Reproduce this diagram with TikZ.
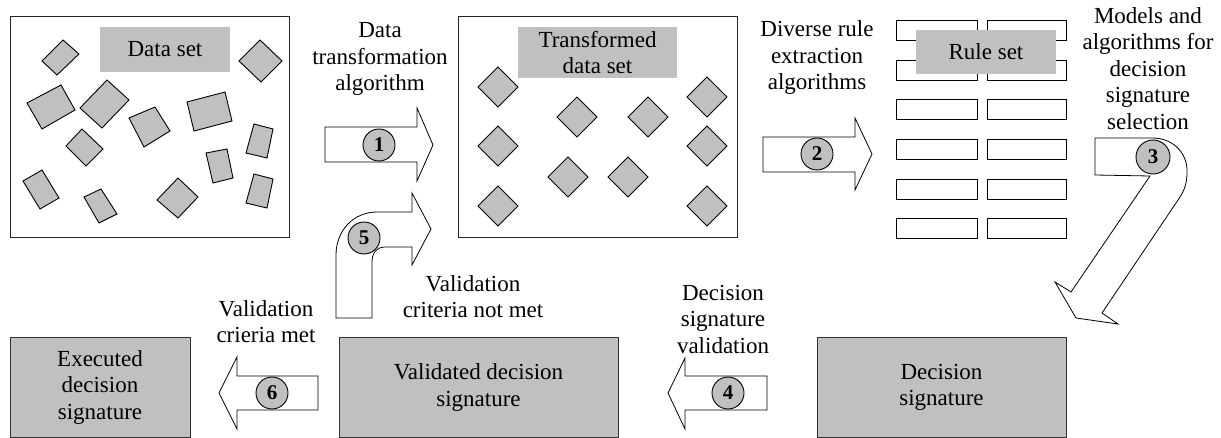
\documentclass[tikz,border=0pt]{standalone}
\usepackage{fontspec}
\setmainfont{Liberation Serif}
\newfontfamily\labelface{Liberation Serif}
\definecolor{boxgray}{RGB}{192,192,192}
\tikzset{
  lbl/.style={align=center, inner sep=0pt, font=\labelface\fontsize{23}{26.5}\selectfont},
  frame/.style={draw=black!85, line width=1pt, fill=white, inner sep=0pt},
  tag/.style={fill=boxgray, inner sep=0pt, lbl},
  result/.style={fill=boxgray, draw=black!80, line width=1pt, inner sep=0pt, lbl},
  item/.style={fill=boxgray, draw=black, line width=0.9pt, line join=miter},
  rulerow/.style={fill=white, draw=black, line width=0.9pt},
  blockarrow/.style={fill=white, draw=black, line width=0.8pt, line join=miter},
  stepnum/.style={circle, fill=boxgray, draw=black, line width=0.9pt, minimum size=32pt,
    inner sep=0pt, font=\labelface\fontsize{21}{21}\selectfont\bfseries},
}
\begin{document}
\begin{tikzpicture}[x=1pt, y=-1pt]
\useasboundingbox (0,0) rectangle (1221,438);

% --- raw data set ---
\node[frame, minimum width=279pt, minimum height=221pt] (data) at (149.5,127.5) {};
\node[tag, minimum width=130pt, minimum height=45pt] (datalbl) at (165,49.5) {Data set};
\foreach \p in {
  {(63,40) -- (79,54) -- (57,75) -- (42,61)},
  {(260,40) -- (282,61) -- (261,82) -- (239,61)},
  {(27,103) -- (61,85) -- (75,110) -- (42,129)},
  {(80,108) -- (107,80) -- (129,100) -- (102,128)},
  {(129,118) -- (155,107) -- (170,131) -- (144,147)},
  {(187,102) -- (225,92) -- (232,121) -- (194,131)},
  {(66,146) -- (82,129) -- (103,149) -- (86,166)},
  {(254,124) -- (273,129) -- (267,158) -- (246,153)},
  {(206,153) -- (227,149) -- (233,178) -- (213,183)},
  {(23,181) -- (42,170) -- (59,198) -- (40,209)},
  {(84,197) -- (101,189) -- (117,214) -- (99,223)},
  {(157,200) -- (178,178) -- (198,197) -- (178,218)},
  {(254,174) -- (273,179) -- (267,208) -- (246,203)}}
  \draw[item] \p -- cycle;

% --- transformed data set ---
\node[frame, minimum width=279pt, minimum height=221pt] (tdata) at (597.5,127.5) {};
\node[tag, minimum width=159pt, minimum height=51pt] (tdatalbl) at (597.5,52.5) {Transformed\\data set};
\foreach \cx/\cy in {498/87, 498/146, 498/206, 577/117, 648/117, 568/177, 628/177, 707/97, 707/146, 707/206}
  \draw[item] (\cx,\cy-20) -- (\cx+20,\cy) -- (\cx,\cy+20) -- (\cx-20,\cy) -- cycle;

% --- rule set ---
\foreach \t in {20,60,99,139,179,218} {
  \draw[rulerow] (896,\t) rectangle (977,\t+20);
  \draw[rulerow] (987,\t) rectangle (1066,\t+20);
}
\node[tag, minimum width=140pt, minimum height=44pt] (rulelbl) at (986,52) {Rule set};

% --- result boxes ---
\node[result, minimum width=180pt, minimum height=99pt] (executed) at (100,387.5) {Executed\\decision\\signature};
\node[result, minimum width=279pt, minimum height=99pt] (validated) at (478.5,387.5) {Validated decision\\signature};
\node[result, minimum width=249pt, minimum height=99pt] (decision) at (941.5,387.5) {Decision\\signature};

% --- block arrows ---
\draw[blockarrow] (325,127) -- (417,127) -- (417,108) -- (433,145) -- (417,181) -- (417,162) -- (325,162) -- cycle;
\draw[blockarrow] (763,137) -- (855,137) -- (855,118) -- (872,154) -- (855,190) -- (855,172) -- (763,172) -- cycle;
\draw[blockarrow] (1095,138) -- (1152,138) .. controls (1175,138) and (1188,155) .. (1187,173)
  .. controls (1187,185) and (1183,193) .. (1178,200) -- (1102,313) -- (1118,324) -- (1076,318)
  -- (1055,282) -- (1071,292) -- (1150,176) -- (1095,175) -- cycle;
\draw[blockarrow] (767,376) -- (685,376) -- (685,358) -- (668,393) -- (685,429) -- (685,410) -- (767,410) -- cycle;
\draw[blockarrow] (336,318) -- (336,255) .. controls (336,231) and (353,212) .. (377,212) -- (412,212)
  -- (412,193) -- (431,229) -- (412,265) -- (412,247) -- (384,247)
  .. controls (377,247) and (372,253) .. (372,262) -- (372,318) -- cycle;
\draw[blockarrow] (318,376) -- (237,376) -- (237,357) -- (219,393) -- (237,429) -- (237,410) -- (318,410) -- cycle;

% --- step numbers ---
\node[stepnum] (s1) at (379,145) {1};
\node[stepnum] (s2) at (817,154) {2};
\node[stepnum, minimum size=34pt] (s3) at (1153,157) {3};
\node[stepnum] (s4) at (728,393) {4};
\node[stepnum] (s5) at (364,238) {5};
\node[stepnum] (s6) at (272,393) {6};

% --- step captions ---
\node[lbl] (c1) at (380,59) {Data\\transformation\\algorithm};
\node[lbl] (c2) at (817,58) {Diverse rule\\extraction\\algorithms};
\node[lbl] (c3) at (1148,68.5) {Models and\\algorithms for\\decision\\signature\\selection};
\node[lbl] (c4) at (723,319) {Decision\\signature\\validation};
\node[lbl] (c5) at (473,296.5) {Validation\\criteria not met};
\node[lbl] (c6) at (266,321.5) {Validation\\crieria met};
\end{tikzpicture}
\end{document}
